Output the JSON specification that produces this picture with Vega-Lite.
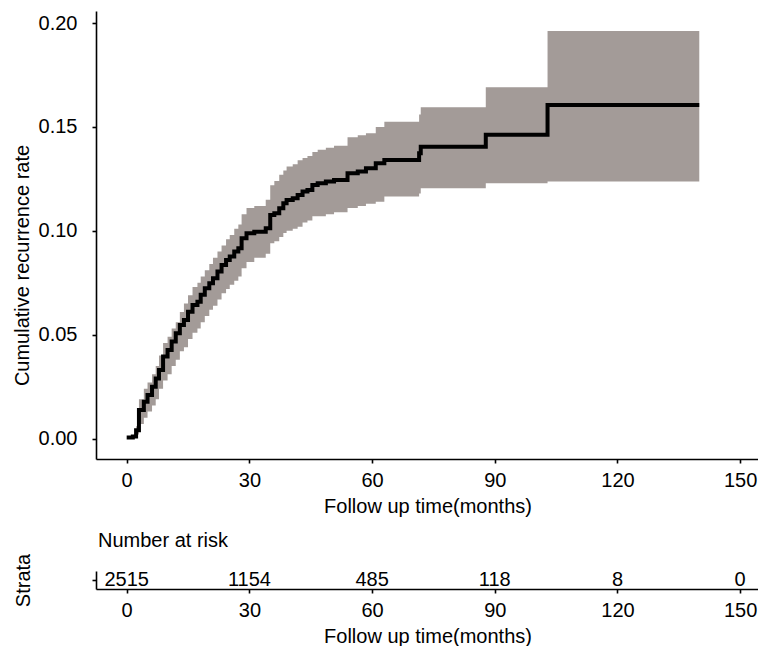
{
  "$schema": "https://vega.github.io/schema/vega-lite/v6.json",
  "padding": {"left": 12, "top": 11, "right": 0, "bottom": 0},
  "spacing": 15,
  "background": "white",
  "config": {
    "view": {"stroke": null},
    "font": "Liberation Sans",
    "axis": {
      "grid": false,
      "domainColor": "black",
      "domainWidth": 1.6,
      "tickColor": "black",
      "tickWidth": 1.6,
      "tickSize": 4,
      "labelColor": "black",
      "titleColor": "black",
      "labelFont": "Liberation Sans",
      "titleFont": "Liberation Sans",
      "labelFontSize": 20,
      "titleFontSize": 20,
      "titleFontWeight": "normal"
    },
    "title": {"font": "Liberation Sans", "fontSize": 20, "fontWeight": "normal", "color": "black"}
  },
  "datasets": {
    "curve": [
      {"t": 0, "est": 0.0005, "lo": 0.0005, "hi": 0.0005},
      {"t": 1.5, "est": 0.001, "lo": 0.001, "hi": 0.001},
      {"t": 2.3, "est": 0.004, "lo": 0.002, "hi": 0.006},
      {"t": 3.0, "est": 0.0138, "lo": 0.007, "hi": 0.019},
      {"t": 4.2, "est": 0.0178, "lo": 0.010, "hi": 0.024},
      {"t": 5.1, "est": 0.021, "lo": 0.013, "hi": 0.027},
      {"t": 6.2, "est": 0.025, "lo": 0.016, "hi": 0.031},
      {"t": 7.1, "est": 0.029, "lo": 0.019, "hi": 0.035},
      {"t": 7.9, "est": 0.033, "lo": 0.024, "hi": 0.040},
      {"t": 8.9, "est": 0.0395, "lo": 0.028, "hi": 0.046},
      {"t": 10.0, "est": 0.0427, "lo": 0.031, "hi": 0.049},
      {"t": 11.0, "est": 0.0467, "lo": 0.035, "hi": 0.053},
      {"t": 12.0, "est": 0.0507, "lo": 0.038, "hi": 0.056},
      {"t": 13.0, "est": 0.0547, "lo": 0.042, "hi": 0.061},
      {"t": 14.0, "est": 0.0571, "lo": 0.044, "hi": 0.065},
      {"t": 15.0, "est": 0.0611, "lo": 0.048, "hi": 0.069},
      {"t": 16.1, "est": 0.0643, "lo": 0.051, "hi": 0.073},
      {"t": 17.3, "est": 0.0659, "lo": 0.053, "hi": 0.075},
      {"t": 18.1, "est": 0.0692, "lo": 0.056, "hi": 0.078},
      {"t": 19.1, "est": 0.0724, "lo": 0.059, "hi": 0.081},
      {"t": 20.2, "est": 0.0748, "lo": 0.062, "hi": 0.084},
      {"t": 21.1, "est": 0.0772, "lo": 0.064, "hi": 0.087},
      {"t": 22.2, "est": 0.0804, "lo": 0.067, "hi": 0.090},
      {"t": 23.2, "est": 0.0836, "lo": 0.070, "hi": 0.093},
      {"t": 24.3, "est": 0.086, "lo": 0.072, "hi": 0.096},
      {"t": 25.2, "est": 0.0876, "lo": 0.074, "hi": 0.098},
      {"t": 26.3, "est": 0.090, "lo": 0.076, "hi": 0.101},
      {"t": 27.3, "est": 0.0916, "lo": 0.078, "hi": 0.103},
      {"t": 28.1, "est": 0.0964, "lo": 0.082, "hi": 0.108},
      {"t": 29.3, "est": 0.0988, "lo": 0.085, "hi": 0.111},
      {"t": 31.2, "est": 0.0996, "lo": 0.087, "hi": 0.112},
      {"t": 34.0, "est": 0.1012, "lo": 0.089, "hi": 0.115},
      {"t": 35.1, "est": 0.1076, "lo": 0.094, "hi": 0.122},
      {"t": 36.1, "est": 0.1085, "lo": 0.095, "hi": 0.124},
      {"t": 37.3, "est": 0.1109, "lo": 0.097, "hi": 0.127},
      {"t": 38.3, "est": 0.1133, "lo": 0.099, "hi": 0.129},
      {"t": 39.1, "est": 0.1149, "lo": 0.100, "hi": 0.131},
      {"t": 40.6, "est": 0.1157, "lo": 0.101, "hi": 0.132},
      {"t": 41.8, "est": 0.1173, "lo": 0.102, "hi": 0.134},
      {"t": 43.0, "est": 0.1189, "lo": 0.104, "hi": 0.135},
      {"t": 44.2, "est": 0.1197, "lo": 0.105, "hi": 0.136},
      {"t": 45.4, "est": 0.1221, "lo": 0.107, "hi": 0.138},
      {"t": 46.7, "est": 0.1229, "lo": 0.107, "hi": 0.139},
      {"t": 48.7, "est": 0.1237, "lo": 0.108, "hi": 0.140},
      {"t": 50.7, "est": 0.1245, "lo": 0.109, "hi": 0.141},
      {"t": 54.0, "est": 0.1277, "lo": 0.111, "hi": 0.145},
      {"t": 56.5, "est": 0.1285, "lo": 0.112, "hi": 0.146},
      {"t": 58.5, "est": 0.1301, "lo": 0.113, "hi": 0.147},
      {"t": 60.9, "est": 0.1325, "lo": 0.114, "hi": 0.150},
      {"t": 63.0, "est": 0.1341, "lo": 0.1165, "hi": 0.1525},
      {"t": 71.5, "est": 0.1373, "lo": 0.118, "hi": 0.156},
      {"t": 71.9, "est": 0.1405, "lo": 0.1205, "hi": 0.1595},
      {"t": 87.8, "est": 0.1462, "lo": 0.1229, "hi": 0.1691},
      {"t": 102.9, "est": 0.1606, "lo": 0.1237, "hi": 0.1962},
      {"t": 140, "est": 0.1606, "lo": 0.1237, "hi": 0.1962}
    ],
    "risk": [
      {"time": 0, "n": "2515", "strata": "All"},
      {"time": 30, "n": "1154", "strata": "All"},
      {"time": 60, "n": "485", "strata": "All"},
      {"time": 90, "n": "118", "strata": "All"},
      {"time": 120, "n": "8", "strata": "All"},
      {"time": 150, "n": "0", "strata": "All"}
    ]
  },
  "vconcat": [
    {
      "width": 663,
      "height": 448,
      "data": {"name": "curve"},
      "encoding": {
        "x": {
          "field": "t", "type": "quantitative",
          "scale": {"domain": [-7.5, 154.6], "nice": false, "zero": false},
          "axis": {"values": [0, 30, 60, 90, 120, 150], "title": "Follow up time(months)", "labelPadding": 7, "titlePadding": 6}
        }
      },
      "layer": [
        {
          "mark": {"type": "area", "interpolate": "step-after", "color": "#a39b98", "opacity": 1, "clip": true},
          "encoding": {
            "y": {
              "field": "lo", "type": "quantitative",
              "scale": {"domain": [-0.0098, 0.2058], "nice": false, "zero": false},
              "axis": {"values": [0, 0.05, 0.1, 0.15, 0.2], "format": ".2f", "title": "Cumulative recurrence rate", "labelPadding": 15, "titlePadding": 6, "titleY": 254}
            },
            "y2": {"field": "hi"}
          }
        },
        {
          "mark": {"type": "line", "interpolate": "step-after", "color": "black", "strokeWidth": 4, "clip": true},
          "encoding": {
            "y": {"field": "est", "type": "quantitative"}
          }
        }
      ]
    },
    {
      "width": 663,
      "height": 18,
      "title": {"text": "Number at risk", "anchor": "start", "frame": "group", "offset": 2, "dx": 2},
      "data": {"name": "risk"},
      "mark": {"type": "text", "fontSize": 20, "color": "black", "font": "Liberation Sans", "baseline": "middle"},
      "encoding": {
        "x": {
          "field": "time", "type": "quantitative",
          "scale": {"domain": [-7.5, 154.6], "nice": false, "zero": false},
          "axis": {"values": [0, 30, 60, 90, 120, 150], "title": "Follow up time(months)", "labelPadding": 7, "titlePadding": 6}
        },
        "y": {
          "field": "strata", "type": "nominal",
          "axis": {"labels": false, "title": "Strata", "titlePadding": 58}
        },
        "text": {"field": "n"}
      }
    }
  ]
}
